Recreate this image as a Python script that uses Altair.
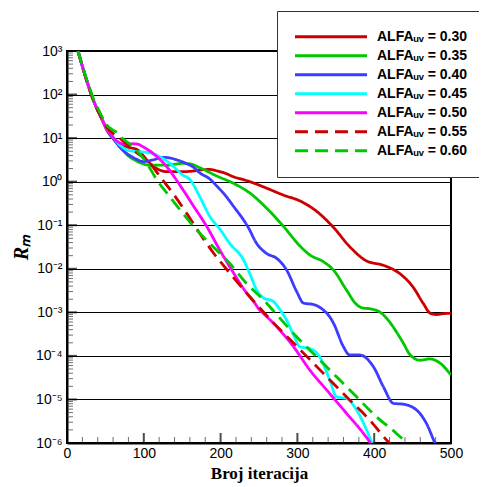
import altair as alt
import pandas as pd

# ---- data ----
alphas = ["0.30", "0.35", "0.40", "0.45", "0.50", "0.55", "0.60"]
colors = ["#cc0000", "#00c800", "#3c3cff", "#00ffff", "#ff00ff", "#cc0000", "#00c800"]
dashes = [[1, 0], [1, 0], [1, 0], [1, 0], [1, 0], [13, 7], [13, 7]]

it_030 = [14, 22, 29, 35, 44, 52, 60, 70, 82, 91, 99, 108, 119, 130, 150, 165, 173, 186, 195, 208, 217, 225, 238, 260, 282, 303, 325, 347, 368, 390, 412, 434, 451, 464, 473, 481, 490, 500]
lg_030 = [3.02, 2.53, 2.14, 1.84, 1.49, 1.18, 0.99, 0.86, 0.78, 0.74, 0.60, 0.42, 0.28, 0.23, 0.23, 0.245, 0.27, 0.28, 0.25, 0.18, 0.11, 0.07, 0.0, -0.15, -0.31, -0.44, -0.68, -1.05, -1.49, -1.82, -1.92, -2.12, -2.43, -2.8, -3.02, -3.05, -3.03, -3.02]

it_035 = [14, 22, 29, 35, 44, 52, 61, 70, 78, 90, 108, 130, 151, 160, 173, 195, 217, 238, 260, 282, 303, 316, 334, 347, 364, 377, 385, 395, 408, 420, 429, 438, 447, 460, 472, 486, 500]
lg_035 = [3.02, 2.53, 2.14, 1.84, 1.49, 1.20, 0.98, 0.78, 0.62, 0.48, 0.38, 0.38, 0.42, 0.41, 0.32, 0.13, -0.04, -0.26, -0.61, -1.03, -1.47, -1.68, -1.84, -2.03, -2.49, -2.82, -2.9, -2.92, -3.0, -3.22, -3.45, -3.71, -3.98, -4.1, -4.07, -4.17, -4.44]

it_040 = [14, 22, 29, 35, 44, 52, 61, 70, 80, 90, 99, 112, 125, 135, 143, 155, 164, 173, 186, 195, 204, 217, 236, 247, 260, 273, 286, 299, 308, 321, 334, 342, 347, 360, 368, 381, 399, 412, 425, 438, 455, 468, 479, 484]
lg_040 = [3.02, 2.53, 2.14, 1.84, 1.49, 1.20, 0.97, 0.77, 0.62, 0.52, 0.46, 0.50, 0.56, 0.54, 0.50, 0.42, 0.34, 0.2, 0.06, -0.1, -0.27, -0.57, -1.05, -1.42, -1.65, -1.76, -2.03, -2.52, -2.79, -2.82, -2.95, -3.1, -3.25, -3.79, -3.98, -3.98, -4.25, -4.71, -5.09, -5.11, -5.24, -5.55, -6.0, -6.2]

it_045 = [14, 22, 29, 35, 44, 52, 61, 70, 80, 91, 100, 108, 121, 134, 151, 160, 173, 186, 199, 212, 230, 238, 247, 256, 268, 277, 286, 295, 303, 316, 329, 342, 351, 364, 377, 390, 397, 400]
lg_045 = [3.02, 2.53, 2.14, 1.84, 1.49, 1.22, 1.0, 0.82, 0.72, 0.69, 0.68, 0.66, 0.57, 0.42, 0.15, 0.05, -0.35, -0.8, -1.09, -1.42, -1.8, -2.11, -2.49, -2.67, -2.74, -2.93, -3.18, -3.52, -3.79, -3.83, -4.02, -4.55, -4.94, -4.98, -5.24, -5.7, -6.0, -6.15]

it_050 = [14, 22, 29, 35, 44, 52, 61, 70, 78, 86, 92, 99, 112, 130, 147, 164, 182, 199, 217, 234, 243, 251, 256, 273, 295, 316, 338, 364, 386, 395, 398]
lg_050 = [3.02, 2.53, 2.14, 1.84, 1.49, 1.22, 1.0, 0.88, 0.86, 0.87, 0.86, 0.80, 0.65, 0.34, -0.08, -0.54, -1.03, -1.57, -2.1, -2.56, -2.75, -2.95, -3.03, -3.33, -3.79, -4.32, -4.78, -5.32, -5.78, -6.0, -6.1]

it_055 = [14, 22, 29, 35, 44, 52, 62, 70, 79, 86, 96, 108, 121, 138, 156, 173, 190, 212, 236, 264, 290, 316, 342, 368, 394, 416, 422]
lg_055 = [3.02, 2.53, 2.14, 1.84, 1.50, 1.25, 1.08, 0.98, 0.84, 0.73, 0.60, 0.42, 0.12, -0.27, -0.73, -1.19, -1.62, -2.1, -2.6, -3.15, -3.62, -4.08, -4.55, -5.01, -5.47, -5.93, -6.05]

it_060 = [14, 22, 29, 35, 44, 52, 60, 66, 72, 86, 104, 117, 134, 151, 169, 190, 212, 234, 260, 273, 299, 325, 351, 377, 403, 429, 442, 446]
lg_060 = [3.02, 2.55, 2.17, 1.88, 1.55, 1.30, 1.18, 1.12, 1.0, 0.8, 0.42, 0.04, -0.35, -0.73, -1.11, -1.49, -1.88, -2.34, -2.79, -3.05, -3.56, -4.02, -4.48, -4.94, -5.4, -5.78, -6.0, -6.08]

series_it = [it_030, it_035, it_040, it_045, it_050, it_055, it_060]
series_lg = [lg_030, lg_035, lg_040, lg_045, lg_050, lg_055, lg_060]

y_decades = list(range(-6, 4))
x_major = [0, 100, 200, 300, 400, 500]
x_minor = list(range(0, 501, 20))

# ---- build tables ----
labels = ["ALFA\u1d64\u1d65 = " + a for a in alphas]
rows = []
for lab, its, lgs in zip(labels, series_it, series_lg):
    for i, e in zip(its, lgs):
        rows.append({"series": lab, "it": i, "R": 10.0 ** e})
df = pd.DataFrame(rows)

y_major_vals = [10.0 ** e for e in y_decades]
y_minor_vals = [float(f"{d}e{e}") for e in y_decades[:-1] for d in range(2, 10)]
df_ymaj = pd.DataFrame({"R": y_major_vals})
df_ymin = pd.DataFrame({"R": y_minor_vals})
df_xmaj = pd.DataFrame({"it": x_major})
df_xmin = pd.DataFrame({"it": [v for v in x_minor if v % 100 != 0]})

W, H = 384, 392

sup = "['\u2070','\u00b9','\u00b2','\u00b3','\u2074','\u2075','\u2076','\u2077','\u2078','\u2079']"
ylabel = ("'10' + (datum.value < 0.5 ? '\u207b' : '') + " + sup +
          "[abs(round(log(datum.value)/LN10))]")

xscale = alt.Scale(domain=[0, 500], nice=False)
yscale = alt.Scale(type="log", domain=[1e-6, 1000], nice=False)

xaxis = alt.Axis(values=x_major, ticks=False, grid=False, domain=True, domainColor="black",
                 domainWidth=2, labelPadding=3, format="d", labelFlush=False,
                 title="Broj iteracija", titleFont="Liberation Serif", titleFontSize=17,
                 titleFontWeight="bold", titleColor="black", titleY=30, titleBaseline="middle")
yaxis = alt.Axis(values=y_major_vals, ticks=False, grid=True, gridColor="black", gridWidth=1,
                 domain=True, domainColor="black", domainWidth=2, labelPadding=5,
                 labelExpr=ylabel, labelFlush=False,
                 title="R\u2098", titleFont="Liberation Serif", titleFontSize=20,
                 titleFontWeight="bold", titleFontStyle="italic", titleColor="black",
                 titleAngle=270, titleX=-46, titleY=H / 2, titleAlign="center",
                 titleBaseline="middle")

leg = alt.Legend(title=None, orient="none", legendX=210, legendY=-40)

lines = alt.Chart(df).mark_line(clip=True, strokeWidth=2.8, interpolate="monotone").encode(
    x=alt.X("it:Q", scale=xscale, axis=xaxis),
    y=alt.Y("R:Q", scale=yscale, axis=yaxis),
    color=alt.Color("series:N", scale=alt.Scale(domain=labels, range=colors), legend=leg),
    strokeDash=alt.StrokeDash("series:N", scale=alt.Scale(domain=labels, range=dashes), legend=leg),
)

ymaj = alt.Chart(df_ymaj).mark_tick(color="black", thickness=2, size=10).encode(
    y=alt.Y("R:Q", scale=yscale), x=alt.value(5))
ymin = alt.Chart(df_ymin).mark_tick(color="#333333", thickness=1, size=6).encode(
    y=alt.Y("R:Q", scale=yscale), x=alt.value(3))
xmaj = alt.Chart(df_xmaj).mark_tick(color="black", thickness=2, size=10).encode(
    x=alt.X("it:Q", scale=xscale), y=alt.value(H - 5))
xmin = alt.Chart(df_xmin).mark_tick(color="#333333", thickness=1, size=6).encode(
    x=alt.X("it:Q", scale=xscale), y=alt.value(H - 3))

chart = alt.layer(lines, ymaj, ymin, xmaj, xmin).properties(
    width=W, height=H,
    autosize=alt.AutoSizeParams(type="none"),
    padding={"left": 59, "top": 43, "right": 28, "bottom": 40},
).configure_view(
    stroke="black", strokeWidth=2
).configure_axis(
    labelFont="Liberation Sans", labelFontSize=14, labelColor="black"
).configure_legend(
    padding=16.5, fillColor="white", strokeColor="#333333", strokeWidth=1, cornerRadius=0,
    symbolType="stroke", symbolSize=5184, symbolStrokeWidth=3, clipHeight=18.3,
    rowPadding=0, labelOffset=8.5, labelFont="Liberation Sans", labelFontSize=14,
    labelFontWeight="bold", labelColor="black", labelLimit=0, symbolOpacity=1
)

chart.save("out.html", embed_options={"renderer": "svg", "actions": False})
